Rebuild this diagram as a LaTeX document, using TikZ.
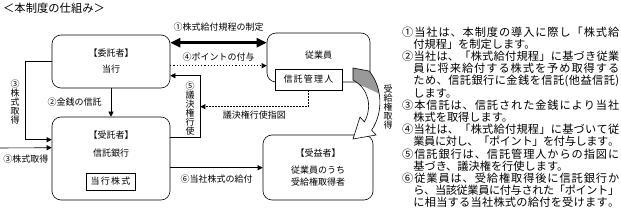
\documentclass[tikz,border=0pt]{standalone}
\usepackage{fontspec}
\setmainfont{Noto Sans CJK JP}
\usetikzlibrary{calc, positioning, arrows.meta}
\makeatletter
\newcommand{\spread}[2]{\hbox to #1{\@tfor\jchar:=#2\do{\jchar\hskip 0pt plus 1fil minus 1pt}\unskip}}
\makeatother
\newcommand{\fullline}[1]{\spread{217pt}{#1}}
\newcommand{\indline}[1]{\hspace*{1em}\spread{205.8pt}{#1}}
\newcommand{\giftarrow}{(353,80) .. controls (368,88) and (373,106) .. (364.4,121.9) -- (360,117) -- (353,139) -- (376,135) -- (371.6,130.1) .. controls (384,112) and (382,86) .. (369,71) -- (353,68) -- cycle}

\begin{document}
\begin{tikzpicture}[
  % pixel grid, y pointing down
  x=1pt, y=-1pt,
  font=\fontsize{9}{10}\selectfont,
  bigbox/.style={draw, rounded corners=9pt, line width=0.6pt, align=center},
  smallbox/.style={draw, fill=white, line width=0.6pt, inner sep=1pt},
  arr/.style={line width=0.6pt, -{Triangle[length=5pt,width=5pt]}},
  bigarr/.style={line width=3pt, {Triangle[length=10pt,width=9pt]}-{Triangle[length=10pt,width=9pt]}},
  dotarr/.style={line width=1.1pt, dotted, -{Triangle[length=5pt,width=5pt]}},
  dasharr/.style={line width=0.8pt, dash pattern=on 1.5pt off 1.5pt, -{Triangle[length=5pt,width=5pt]}},
  tate/.style={align=center, font=\fontsize{9}{9}\selectfont, inner sep=0pt}
]
  \useasboundingbox (0,0) rectangle (621,224);

  % Title
  \node[anchor=west, inner sep=0pt, font=\fontsize{11.3}{12}\selectfont] (title) at (3,8) {＜本制度の仕組み＞};

  % Boxes
  \node[bigbox, minimum width=118pt, minimum height=53pt, font=\fontsize{9}{16}\selectfont] (itaku) at (111,61.5) {【委託者】\\当行};
  \node[bigbox, minimum width=118pt, minimum height=83pt] (jutaku) at (111,158.5) {};
  \node[align=center, font=\fontsize{9}{18}\selectfont] (jutakutxt) at (111,144) {【受託者】\\信託銀行};
  \node[smallbox, minimum width=49pt, minimum height=17pt] (toko) at (110.5,181.5) {\spread{40pt}{当行株式}};

  \node[bigbox, minimum width=103pt, minimum height=49pt] (jugyoin) at (318.5,57.5) {};
  \node (jugyointxt) at (318.5,55) {従業員};
  \node[smallbox, minimum width=67pt, minimum height=21pt] (kanri) at (308.5,79.5) {\spread{50pt}{信託管理人}};

  \node[bigbox, minimum width=110pt, minimum height=65pt] (jueki) at (318,167.5) {};
  \node (juekitxt) at (318,153) {【受益者】};
  \node[align=center, font=\fontsize{9}{12.5}\selectfont] (juekisub) at (318,176) {従業員のうち\\受給権取得者};

  % Connectors
  \coordinate (p1) at ([yshift=-8pt]itaku.north east);
  \draw[bigarr] (p1) -- (p1 -| jugyoin.west) node[midway, yshift=16pt] {①株式給付規程の制定};

  \coordinate (p4) at ([yshift=-31pt]itaku.north east);
  \draw[dotarr] (p4) -- (p4 -| jugyoin.west) node[midway, yshift=8.5pt] {④ポイントの付与};

  \coordinate (p5a) at ([yshift=-21pt]jutaku.north east);
  \coordinate (p5b) at ([yshift=-41pt]itaku.north east);
  \draw[arr] (p5a) -- ++(30,0) coordinate (p5c) |- (p5b);
  \node[tate] (vote) at (190,108.5) {⑤\\議\\決\\権\\行\\使};
  \coordinate (shizu) at ($(p5c)!0.5!(p5c |- p5b)$);
  \draw[dasharr] (kanri.south) |- (shizu) node[pos=0.75, yshift=-8pt] {議決権行使指図};

  \draw[arr] (itaku.south) -- (jutaku.north) node[midway, anchor=east, inner sep=0pt, xshift=-9pt] {②金銭の信託};

  \coordinate (p3) at ([yshift=-23pt]jutaku.north west);
  \draw[arr] (itaku.west) -- ++(-26,0) |- (p3);
  \node[tate] (kabu3) at (15,102) {③\\株\\式\\取\\得};

  \coordinate (edge) at (0,148);
  \coordinate (p3b) at ([yshift=-31pt]jutaku.north west);
  \draw[arr] (edge) -- (p3b) node[midway, yshift=-11pt] {③株式取得};

  \coordinate (p6) at ([yshift=-51pt]jutaku.north east);
  \draw[arr] (p6) -- (p6 -| jueki.west) node[midway, yshift=-11pt] {⑥当社株式の給付};

  % Curved block arrow, grey at its tail
  \fill[white] \giftarrow;
  \begin{scope}
    \clip \giftarrow;
    \fill[gray!80] (345,60) -- (395,60) -- (395,104) .. controls (378,92) and (362,84) .. (345,82) -- cycle;
  \end{scope}
  \draw[line width=0.6pt] \giftarrow;
  \node[tate] (juken) at (388,107) {受\\給\\権\\取\\得};

  % Explanation
  \node[anchor=north west, align=left, inner sep=0pt, font=\fontsize{11.2}{12.2}\selectfont] (expl) at (402,26.5) {%
    \fullline{①当社は、本制度の導入に際し「株式給}\\
    \hspace*{1em}付規程」を制定します。\\
    \fullline{②当社は、「株式給付規程」に基づき従業}\\
    \indline{員に将来給付する株式を予め取得する}\\
    \indline{ため、信託銀行に金銭を信託(他益信託)}\\
    \hspace*{1em}します。\\
    \fullline{③本信託は、信託された金銭により当社}\\
    \hspace*{1em}株式を取得します。\\
    \fullline{④当社は、「株式給付規程」に基づいて従}\\
    \indline{業員に対し、「ポイント」を付与します。}\\
    \fullline{⑤信託銀行は、信託管理人からの指図に}\\
    \hspace*{1em}基づき、議決権を行使します。\\
    \fullline{⑥従業員は、受給権取得後に信託銀行か}\\
    \indline{ら、当該従業員に付与された「ポイント」}\\
    \indline{に相当する当社株式の給付を受けます。}};
\end{tikzpicture}
\end{document}
